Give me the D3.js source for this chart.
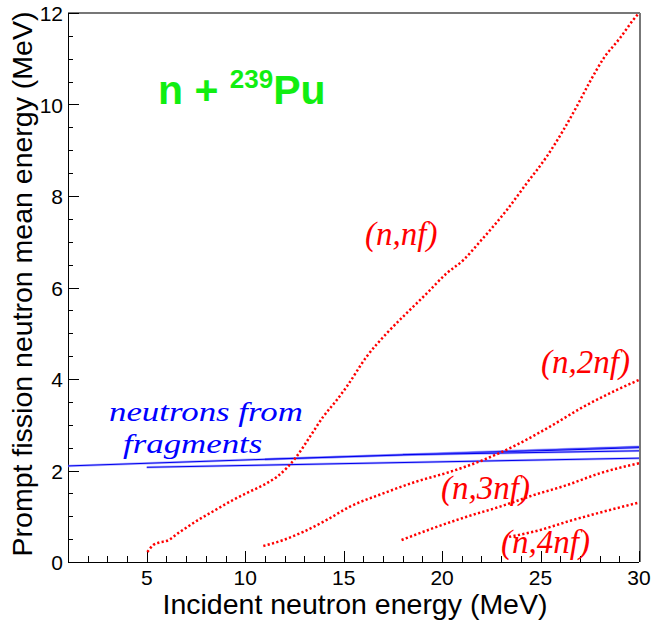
<!DOCTYPE html>
<html lang="en">
<head>
  <meta charset="UTF-8">
  <title>Prompt fission neutron mean energy</title>
  <script src="https://d3js.org/d3.v7.min.js"></script>
  <style>
    body { margin: 0; background: white; }
    svg { display: block; }
    .tick-label { font-family: "Liberation Sans", Arial, sans-serif; font-size: 21px; fill: black; }
    .title { font-family: "Liberation Sans", Arial, sans-serif; font-size: 28.5px; fill: black; }
    .lbl { font-family: "Liberation Serif", "Times New Roman", serif; font-style: italic; }
  </style>
</head>
<body>
  <svg id="chart"></svg>

  <script>
    // curves: [incident energy MeV, mean energy MeV]
    const nnf = [[5.03,0.22],[5.33,0.37],[5.67,0.43],[6.0,0.46],[6.69,0.66],[7.54,0.9],[8.38,1.11],
      [9.4,1.36],[10.24,1.54],[11.09,1.72],[11.6,1.86],[12.1,2.05],[12.6,2.3],[13.29,2.74],[13.97,3.18],
      [14.65,3.54],[15.15,3.83],[16.17,4.49],[17.19,5.0],[18.2,5.44],[19.22,5.87],[20.23,6.31],
      [21.08,6.6],[21.92,7.0],[23.28,7.69],[24.3,8.28],[25.31,8.86],[26.16,9.44],[26.83,9.95],
      [27.51,10.5],[28.19,11.0],[29.03,11.45],[29.71,11.85],[30,12.0]];
    const n2nf = [[10.92,0.35],[11.93,0.48],[12.95,0.66],[14.14,0.92],[15.32,1.21],[17.01,1.5],
      [18.71,1.76],[20.4,1.97],[22.09,2.23],[23.78,2.56],[25.48,2.96],[27.17,3.39],[28.87,3.76],[30,3.98]];
    const n3nf = [[17.94,0.48],[19.55,0.74],[21.25,0.99],[22.94,1.21],[24.63,1.46],[26.33,1.68],
      [28.02,1.94],[30,2.16]];
    const n4nf = [[23.4,0.55],[24.63,0.66],[26.66,0.92],[28.19,1.1],[30,1.3]];
    // neutrons from fragments, one line per fission chance
    const frag = [
      [[1,2.10],[30,2.52]],
      [[5,2.07],[30,2.27]],
      [[11,2.245],[30,2.50]],
      [[18,2.346],[30,2.43]]
    ];
    const xTicks = [5, 10, 15, 20, 25, 30];
    const yTicks = [0, 2, 4, 6, 8, 10, 12];

    const W = 651, H = 622;
    const m = { left: 68, right: 639, top: 13, bottom: 562 };
    const svg = d3.select("#chart").attr("width", W).attr("height", H);

    const x = d3.scaleLinear().domain([1, 30]).range([m.left, m.right]);
    const y = d3.scaleLinear().domain([0, 12]).range([m.bottom, m.top]);

    // frame: top/right grey
    svg.append("line").attr("x1", m.left).attr("x2", m.right + 1).attr("y1", m.top).attr("y2", m.top)
      .attr("stroke", "#777").attr("stroke-width", 2);
    svg.append("line").attr("x1", m.right + 1).attr("x2", m.right + 1).attr("y1", m.top).attr("y2", m.bottom)
      .attr("stroke", "#777").attr("stroke-width", 2);

    // x axis with inward ticks
    const xAxis = svg.append("g");
    xAxis.append("line").attr("x1", m.left).attr("x2", m.right).attr("y1", m.bottom + 0.5).attr("y2", m.bottom + 0.5)
      .attr("stroke", "black");
    d3.range(1, 31).forEach(v => {
      const major = v % 5 === 0;
      xAxis.append("line").attr("x1", Math.round(x(v)) + 0.5).attr("x2", Math.round(x(v)) + 0.5)
        .attr("y1", m.bottom).attr("y2", m.bottom - (major ? 11 : 6)).attr("stroke", "black");
    });
    xAxis.selectAll("text").data(xTicks).join("text").attr("class", "tick-label")
      .attr("x", d => x(d)).attr("y", 585).attr("text-anchor", "middle").text(d => d);

    // y axis
    const yAxis = svg.append("g");
    yAxis.append("line").attr("x1", m.left + 0.5).attr("x2", m.left + 0.5).attr("y1", m.top).attr("y2", m.bottom)
      .attr("stroke", "black");
    d3.range(0, 12.01, 0.5).forEach(v => {
      const major = v % 2 === 0;
      yAxis.append("line").attr("x1", m.left).attr("x2", m.left + (major ? 11 : 5))
        .attr("y1", Math.round(y(v)) + 0.5).attr("y2", Math.round(y(v)) + 0.5).attr("stroke", "black");
    });
    yAxis.selectAll("text").data(yTicks).join("text").attr("class", "tick-label")
      .attr("x", 63).attr("y", d => y(d) + 8).attr("text-anchor", "end").text(d => d);

    // titles
    svg.append("text").attr("class", "title").attr("x", 355).attr("y", 614).attr("text-anchor", "middle")
      .text("Incident neutron energy (MeV)");
    svg.append("text").attr("class", "title").attr("transform", "translate(32,284) rotate(-90)")
      .attr("text-anchor", "middle").text("Prompt fission neutron mean energy (MeV)");

    const line = d3.line().x(d => x(d[0])).y(d => y(d[1])).curve(d3.curveMonotoneX);

    // fragment lines: light band + core line
    frag.forEach(f => {
      svg.append("path").attr("d", line(f)).attr("fill", "none")
        .attr("stroke", "#8080ff").attr("stroke-width", 2.5).attr("opacity", 0.6);
      svg.append("path").attr("d", line(f)).attr("fill", "none")
        .attr("stroke", "#0000ee").attr("stroke-width", 1);
    });

    // multi-chance fission curves
    [nnf, n2nf, n3nf, n4nf].forEach(c => {
      svg.append("path").attr("d", line(c)).attr("fill", "none")
        .attr("stroke", "red").attr("stroke-width", 2.5).attr("stroke-dasharray", "2.2,2.3");
    });

    // labels
    const red = [
      { t: "(n,nf)", x: 365, y: 245 },
      { t: "(n,2nf)", x: 541, y: 373 },
      { t: "(n,3nf)", x: 441, y: 499 },
      { t: "(n,4nf)", x: 501, y: 553 }
    ];
    svg.selectAll(".rl").data(red).join("text").attr("class", "lbl rl")
      .attr("x", d => d.x).attr("y", d => d.y).attr("font-size", 33).attr("fill", "red").text(d => d.t);

    // glyphs in the reference are wide and short: stretch horizontally
    svg.append("text").attr("class", "lbl").attr("transform", "translate(109,421) scale(1.29,1)")
      .attr("font-size", 27).attr("fill", "#0000ff").text("neutrons from");
    svg.append("text").attr("class", "lbl").attr("transform", "translate(123,453) scale(1.29,1)")
      .attr("font-size", 27).attr("fill", "#0000ff").text("fragments");

    const title = svg.append("text").attr("x", 158).attr("y", 104)
      .attr("font-family", "'Liberation Sans', Arial, sans-serif").attr("font-weight", "bold")
      .attr("font-size", 41).attr("fill", "#11ee11");
    title.append("tspan").text("n + ");
    title.append("tspan").attr("font-size", 26).attr("dy", -16).text("239");
    title.append("tspan").attr("dy", 16).text("Pu");
  </script>
</body>
</html>
